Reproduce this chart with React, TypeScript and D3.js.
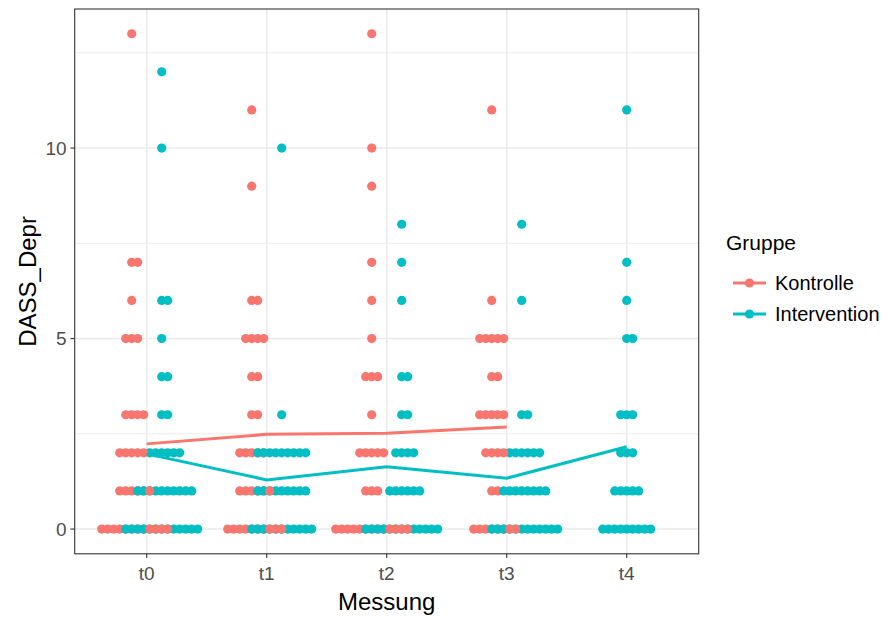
import React from "react";
import * as d3 from "d3";

// Measurement occasions and study groups
const times = ["t0", "t1", "t2", "t3", "t4"];
const groups = ["Kontrolle", "Intervention"];
const groupColors = ["#F8766D", "#00BFC4"];

// DASS depression scores 0..13; counts[t][score] = number of participants
const scoreLevels = [0, 1, 2, 3, 4, 5, 6, 7, 8, 9, 10, 11, 12, 13];
const kontrolleCounts = [
  [12, 6, 5, 4, 0, 3, 1, 2, 0, 0, 0, 0, 0, 1],
  [10, 6, 5, 2, 2, 4, 2, 0, 0, 1, 0, 1, 0, 0],
  [13, 3, 5, 1, 3, 1, 1, 1, 0, 1, 1, 0, 0, 1],
  [8, 2, 4, 5, 2, 5, 1, 0, 0, 0, 0, 1, 0, 0],
  [0, 0, 0, 0, 0, 0, 0, 0, 0, 0, 0, 0, 0, 0],
];
const interventionCounts = [
  [13, 10, 6, 2, 2, 1, 2, 0, 0, 0, 1, 0, 1, 0],
  [11, 9, 9, 1, 0, 0, 0, 0, 0, 0, 1, 0, 0, 0],
  [13, 6, 4, 2, 2, 0, 1, 1, 1, 0, 0, 0, 0, 0],
  [12, 8, 6, 2, 0, 0, 1, 0, 1, 0, 0, 0, 0, 0],
  [9, 5, 3, 3, 0, 2, 1, 1, 0, 0, 0, 1, 0, 0],
];

const yTicks = [0, 5, 10];
const yMinorTicks = [2.5, 7.5, 12.5];

const W = 889;
const H = 617;
const panel = { left: 74.7, right: 698.7, top: 9, bottom: 553.8 };
const FONT = "'Liberation Sans', Arial, Helvetica, sans-serif";
const DOT_R = 4.6;
const STACK_STEP = 6;
const DODGE = 0.5; // dodge width in category units

type Dot = { key: string; cx: number; cy: number; g: number; pos: number };

export default function App() {
  const countsByGroup = [kontrolleCounts, interventionCounts];

  const x = d3
    .scalePoint<string>()
    .domain(times)
    .range([panel.left, panel.right])
    .padding(0.6);
  const y = d3
    .scaleLinear()
    .domain([-0.65, 13.65])
    .range([panel.bottom, panel.top]);
  const step = x.step();

  // dot stacks, centred on whole positions, dodged per group
  const rows: Dot[][] = [];
  times.forEach((t, ti) => {
    const present = groups
      .map((_, gi) => gi)
      .filter((gi) => d3.sum(countsByGroup[gi][ti]) > 0);
    scoreLevels.forEach((score, si) => {
      const row: Dot[] = [];
      present.forEach((gi, k) => {
        const n = countsByGroup[gi][ti][si];
        if (!n) return;
        const off =
          present.length > 1
            ? DODGE * step * ((k + 0.5) / present.length - 0.5)
            : 0;
        const center = (x(t) as number) + off;
        const shift = Math.floor((n - 1) / 2);
        for (let c = 0; c < n; c++) {
          const pos = c - shift;
          row.push({
            key: `${t}-${gi}-${score}-${c}`,
            cx: center + pos * STACK_STEP,
            cy: y(score),
            g: gi,
            pos,
          });
        }
      });
      row.sort(
        (a, b) =>
          Math.abs(a.pos) - Math.abs(b.pos) ||
          (a.g === 1 ? -1 : 1) - (b.g === 1 ? -1 : 1)
      );
      rows.push(row);
    });
  });

  // group means per measurement
  const meanLines = groups.map((_, gi) =>
    times
      .map((t, ti) => {
        const c = countsByGroup[gi][ti];
        const n = d3.sum(c);
        if (!n) return null;
        const m = d3.sum(c, (v, i) => v * scoreLevels[i]) / n;
        return [x(t) as number, y(m)] as [number, number];
      })
      .filter((p): p is [number, number] => p !== null)
  );
  const line = d3.line<[number, number]>();

  const legendX = 726;
  const legendItems = [
    { label: groups[0], color: groupColors[0], cy: 283 },
    { label: groups[1], color: groupColors[1], cy: 314 },
  ];

  return (
    <svg
      width={W}
      height={H}
      style={{ position: "absolute", left: 0, top: 0, background: "#fff" }}
      fontFamily={FONT}
    >
      <rect x={0} y={0} width={W} height={H} fill="#fff" />
      {/* grid */}
      {yMinorTicks.map((v) => (
        <line
          key={`ym${v}`}
          x1={panel.left}
          x2={panel.right}
          y1={y(v)}
          y2={y(v)}
          stroke="#EBEBEB"
          strokeWidth={0.9}
        />
      ))}
      {yTicks.map((v) => (
        <line
          key={`y${v}`}
          x1={panel.left}
          x2={panel.right}
          y1={y(v)}
          y2={y(v)}
          stroke="#EBEBEB"
          strokeWidth={1.6}
        />
      ))}
      {times.map((t) => (
        <line
          key={`x${t}`}
          x1={x(t)}
          x2={x(t)}
          y1={panel.top}
          y2={panel.bottom}
          stroke="#EBEBEB"
          strokeWidth={1.6}
        />
      ))}

      {/* dots */}
      {rows.map((row, ri) => (
        <g key={`r${ri}`}>
          {row.map((d) => (
            <circle
              key={d.key}
              cx={d.cx}
              cy={d.cy}
              r={DOT_R}
              fill={groupColors[d.g]}
            />
          ))}
        </g>
      ))}

      {/* mean lines */}
      {meanLines.map((pts, gi) => (
        <path
          key={`l${gi}`}
          d={line(pts) || ""}
          fill="none"
          stroke={groupColors[gi]}
          strokeWidth={3}
        />
      ))}

      {/* panel border */}
      <rect
        x={panel.left}
        y={panel.top}
        width={panel.right - panel.left}
        height={panel.bottom - panel.top}
        fill="none"
        stroke="#333333"
        strokeWidth={1.1}
      />

      {/* y axis */}
      {yTicks.map((v) => (
        <g key={`yt${v}`}>
          <line
            x1={panel.left - 4.3}
            x2={panel.left}
            y1={y(v)}
            y2={y(v)}
            stroke="#333333"
            strokeWidth={1.1}
          />
          <text
            x={panel.left - 8}
            y={y(v)}
            dy="0.36em"
            textAnchor="end"
            fontSize={19}
            fill="#4D4D4D"
          >
            {v}
          </text>
        </g>
      ))}
      {/* x axis */}
      {times.map((t) => (
        <g key={`xt${t}`}>
          <line
            x1={x(t)}
            x2={x(t)}
            y1={panel.bottom}
            y2={panel.bottom + 4.3}
            stroke="#333333"
            strokeWidth={1.1}
          />
          <text
            x={x(t)}
            y={panel.bottom + 26}
            textAnchor="middle"
            fontSize={19}
            fill="#4D4D4D"
          >
            {t}
          </text>
        </g>
      ))}

      {/* axis titles */}
      <text
        x={(panel.left + panel.right) / 2}
        y={610}
        textAnchor="middle"
        fontSize={24}
        fill="#000"
      >
        Messung
      </text>
      <text
        transform={`translate(36, ${(panel.top + panel.bottom) / 2}) rotate(-90)`}
        textAnchor="middle"
        fontSize={24}
        fill="#000"
      >
        DASS_Depr
      </text>

      {/* legend */}
      <text x={legendX} y={250} fontSize={21} fill="#000">
        Gruppe
      </text>
      {legendItems.map((it) => (
        <g key={it.label}>
          <line
            x1={legendX + 7}
            x2={legendX + 40}
            y1={it.cy}
            y2={it.cy}
            stroke={it.color}
            strokeWidth={3}
          />
          <circle cx={legendX + 23.5} cy={it.cy} r={DOT_R} fill={it.color} />
          <text
            x={legendX + 49}
            y={it.cy}
            dy="0.36em"
            fontSize={20}
            fill="#000"
          >
            {it.label}
          </text>
        </g>
      ))}
    </svg>
  );
}
